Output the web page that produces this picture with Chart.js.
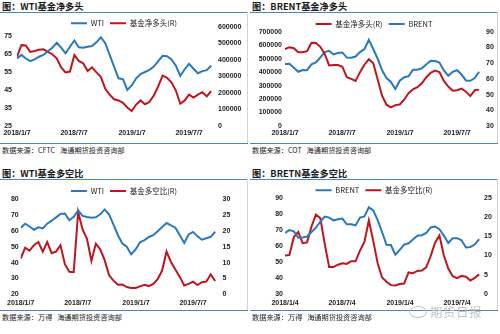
<!DOCTYPE html>
<html>
<head>
<meta charset="utf-8">
<script src="https://cdn.jsdelivr.net/npm/chart.js@4.4.0/dist/chart.umd.min.js"></script>
<style>
  html, body { margin: 0; padding: 0; background: #fff; }
  body { width: 500px; height: 334px; position: relative; overflow: hidden;
         font-family: "Noto Sans CJK SC", "Liberation Sans", sans-serif; }
  .panel { position: absolute; width: 250px; height: 167px; }
  .title { position: absolute; left: 2px; top: 0; font-size: 9.2px; font-weight: bold;
           color: #1a1a1a; line-height: 12px; white-space: nowrap; }
  .rule { position: absolute; left: 0; width: 248px; height: 1px; background: #4a86c5; }
  .frame { position: absolute; left: 247px; top: 12px; width: 1px; height: 131px; background: #d4d4d4; }
  .src { position: absolute; left: 2px; top: 145px; font-size: 7.2px; color: #222;
         line-height: 10px; white-space: pre; }
  .panel canvas { position: absolute; left: 0; top: 13px; }
  .mark { position: absolute; left: 430px; top: 302px; font-size: 12.5px; color: #c4c4c4;
          letter-spacing: 0.5px; white-space: nowrap; }
  .icon { position: absolute; left: 409px; top: 306px; width: 16px; height: 10px;
          border: 1px solid #c4c4c4; border-radius: 50%; }
</style>
</head>
<body>

<div class="panel" style="left:0;top:0">
  <div class="title">图：WTI基金净多头</div>
  <div class="rule" style="top:12px"></div>
  <div class="frame"></div>
  <canvas id="c1" width="248" height="130"></canvas>
  <div class="rule" style="top:143px"></div>
  <div class="src">数据来源：CFTC   海通期货投资咨询部</div>
</div>

<div class="panel" style="left:250px;top:0">
  <div class="title">图：BRENT基金净多头</div>
  <div class="rule" style="top:12px"></div>
  <div class="frame"></div>
  <canvas id="c2" width="248" height="130"></canvas>
  <div class="rule" style="top:143px"></div>
  <div class="src">数据来源：COT   海通期货投资咨询部</div>
</div>

<div class="panel" style="left:0;top:167px">
  <div class="title">图：WTI基金多空比</div>
  <div class="rule" style="top:12px"></div>
  <div class="frame"></div>
  <canvas id="c3" width="248" height="130"></canvas>
  <div class="rule" style="top:143px"></div>
  <div class="src">数据来源：万得   海通期货投资咨询部</div>
</div>

<div class="panel" style="left:250px;top:167px">
  <div class="title">图：BRETN基金多空比</div>
  <div class="rule" style="top:12px"></div>
  <div class="frame"></div>
  <canvas id="c4" width="248" height="130"></canvas>
  <div class="rule" style="top:143px"></div>
  <div class="src">数据来源：万得   海通期货投资咨询部</div>
</div>

<div class="icon"></div>
<div class="mark">期货日报</div>

<script>
// dates on the x axis (readings are every two weeks from the start date)
const startJan7 = '2018/1/7';
const startJan4 = '2018/1/4';
const xLabelsJan7 = ['2018/1/7', '2018/7/7', '2019/1/7', '2019/7/7'];
const xLabelsJan4 = ['2018/1/4', '2018/7/4', '2019/1/4', '2019/7/4'];

// WTI net long
const wtiPrice1 = [62.5, 64.5, 62.5, 61, 62, 63.5, 64.5, 66.5, 68.5, 71.2,
                   68.5, 65.4, 69, 72.5, 68.7, 68.5, 69, 69.4, 71.5, 74.3,
                   71, 64.5, 58, 51.5, 51, 45, 47.5, 51.5, 53.9, 55,
                   56.2, 58, 61, 64, 63.8, 62, 58.5, 52.8, 56.5, 59.5,
                   56.8, 54.3, 55.5, 56, 58.5];
const wtiNetLong = [420000, 490000, 488000, 449000, 455000, 462000, 465000, 449000, 435000, 410000,
                    355000, 325000, 330000, 430000, 394000, 380000, 333000, 355000, 325000, 298000,
                    225000, 190000, 162000, 155000, 140000, 112000, 90000, 130000, 155000, 132000,
                    145000, 185000, 240000, 305000, 292000, 265000, 215000, 135000, 155000, 190000,
                    172000, 190000, 205000, 180000, 212000];

// BRENT net long
const brentNetLong = [570000, 585000, 577000, 548000, 548000, 555000, 618000, 616000, 588000, 535000,
                      450000, 452000, 453000, 440000, 362000, 350000, 335000, 400000, 455000, 495000,
                      465000, 345000, 225000, 158000, 139000, 155000, 160000, 195000, 243000, 272000,
                      288000, 317000, 360000, 395000, 411000, 400000, 335000, 293000, 262000, 265000,
                      278000, 255000, 222000, 265000, 270000];
const brentPrice2 = [69.4, 69.6, 67, 64.5, 65.6, 65.5, 69.2, 70.5, 73.6, 77,
                     77.8, 75.5, 76.4, 76.8, 73.5, 73.4, 74.2, 77, 79, 84.8,
                     79, 72.8, 65.4, 60.5, 58, 53.5, 58.8, 61, 61.6, 65.8,
                     65.8, 66.7, 69.2, 71.5, 71.3, 70.4, 65.3, 62, 64.5, 65.5,
                     62.8, 59, 58.8, 60.5, 64.5];

// WTI long/short ratio
const wtiPrice3 = [62, 64.6, 62.8, 60.8, 62.3, 61.6, 64.6, 66.5, 68.6, 70.8,
                   71, 66.7, 69, 73, 69.5, 68.8, 68.3, 68.6, 70.5, 73.6,
                   70.3, 64, 57.3, 52.1, 50, 45.2, 48.3, 52.8, 54.2, 56.2,
                   57.3, 59.8, 62.5, 65, 63.5, 62.1, 57.3, 52.4, 57.8, 59.4,
                   56.6, 54.5, 55.4, 56.3, 59.5];
const wtiRatio = [11.3, 14.7, 13.8, 15.5, 16.5, 13.5, 16.5, 13, 13.5, 15.5,
                  9.5, 7.1, 7, 26, 20.5, 17.5, 10.5, 16, 14.2, 10.8,
                  6, 4.3, 3, 3.1, 2.3, 2, 2, 2.5, 3, 2.6,
                  3.3, 4.8, 7.5, 13.5, 10.2, 7.8, 5.5, 2.8, 3.3, 4,
                  2.9, 3.8, 4, 6.3, 4.2];

// BRENT long/short ratio
const brentPrice4 = [68, 69.8, 69, 65, 65.2, 65.8, 68.6, 71.3, 75, 78.2,
                     77.6, 75.9, 76.6, 77, 73.4, 73.5, 72.8, 77.6, 78.3, 84,
                     82.1, 76, 68.6, 60.6, 60.5, 54.5, 57.5, 60.8, 61.6, 64,
                     66.3, 66.6, 68, 71.5, 72, 70.4, 66.4, 61.8, 64.8, 64.8,
                     63.5, 59, 59.3, 60.8, 64.2];
const brentRatio = [10, 10.1, 14.8, 16.1, 13.2, 13.4, 17.5, 20.6, 19.7, 13,
                    7, 7, 7.6, 8, 7.8, 8.5, 8.5, 11.3, 13.5, 19.1,
                    13.8, 8, 4.3, 3.2, 2.3, 2.2, 2.6, 2.7, 5.6, 5.4,
                    6, 6.1, 6.9, 9.8, 13.3, 15.2, 10, 6.6, 4.6, 4.1,
                    4.7, 4.5, 3.5, 4.2, 5.1];

// axis ticks
const ticksWti25 = [25, 35, 45, 55, 65, 75];
const ticksLong600k = [0, 100000, 200000, 300000, 400000, 500000, 600000];
const ticksLong700k = [0, 100000, 200000, 300000, 400000, 500000, 600000, 700000];
const ticksBrent30 = [30, 40, 50, 60, 70, 80, 90];
const ticksWti20 = [20, 30, 40, 50, 60, 70, 80];
const ticksRatio30 = [0, 5, 10, 15, 20, 25, 30];
const ticksRatio25 = [0, 5, 10, 15, 20, 25];

const BLUE = '#2a78bd';
const RED = '#c0151d';
const CW = 248, CH = 130;
const STEP_DAYS = 14;

function dayOf(s, start) {
  const toUtc = t => { const p = t.split('/').map(Number); return Date.UTC(p[0], p[1] - 1, p[2]); };
  return Math.round((toUtc(s) - toUtc(start)) / 86400000);
}

const tickFont = { family: '"Liberation Sans", Arial, sans-serif', size: 7, weight: 'bold' };

function makeChart(id, cfg) {
  const g = cfg.geom;
  const itemH = 7.5, legPad = 6;
  const padTop = g.legendY - legPad - itemH / 2;
  const xTicks = cfg.xLabels.map(s => dayOf(s, cfg.start));

  new Chart(document.getElementById(id), {
    type: 'line',
    data: {
      datasets: cfg.series.map(s => ({
        label: s.label,
        data: s.values.map((v, i) => ({ x: i * STEP_DAYS, y: v })),
        yAxisID: s.axis,
        borderColor: s.color,
        backgroundColor: s.color,
        borderWidth: 2,
        pointRadius: 0,
        tension: 0,
        fill: false
      }))
    },
    options: {
      responsive: false,
      animation: false,
      layout: { padding: { top: padTop, left: 0, right: 0, bottom: 0 } },
      plugins: {
        legend: {
          position: 'top',
          maxHeight: g.top - padTop,
          labels: {
            usePointStyle: true,
            pointStyle: 'line',
            pointStyleWidth: 16,
            padding: legPad,
            color: '#222',
            font: { family: '"Noto Sans CJK SC", sans-serif', size: itemH }
          }
        },
        tooltip: { enabled: false }
      },
      scales: {
        x: {
          type: 'linear', min: 0, max: 625,
          grid: { display: false, drawTicks: false },
          border: { display: false },
          afterFit: s => { s.height = CH - g.bottom; },
          afterBuildTicks: s => { s.ticks = xTicks.map(v => ({ value: v })); },
          ticks: {
            autoSkip: false, maxRotation: 0, padding: g.xPad, color: '#222', font: tickFont,
            callback: (v, i) => cfg.xLabels[i]
          }
        },
        left: {
          position: 'left', min: cfg.left.min, max: cfg.left.max,
          grid: { display: false, drawTicks: false },
          border: { display: false },
          afterFit: s => { s.width = g.left; },
          afterBuildTicks: s => { s.ticks = cfg.left.ticks.map(v => ({ value: v })); },
          ticks: { padding: g.lPad, color: '#222', font: tickFont, callback: v => String(v) }
        },
        right: {
          position: 'right', min: cfg.right.min, max: cfg.right.max,
          grid: { display: false, drawTicks: false },
          border: { display: false },
          afterFit: s => { s.width = CW - g.right; },
          afterBuildTicks: s => { s.ticks = cfg.right.ticks.map(v => ({ value: v })); },
          ticks: { padding: g.rPad, color: '#222', font: tickFont, callback: v => String(v) }
        }
      }
    }
  });
}

makeChart('c1', {
  start: startJan7, xLabels: xLabelsJan7,
  series: [
    { label: 'WTI', values: wtiPrice1, axis: 'left', color: BLUE },
    { label: '基金净多头(R)', values: wtiNetLong, axis: 'right', color: RED }
  ],
  left: { min: 25, max: 80, ticks: ticksWti25 },
  right: { min: 0, max: 600000, ticks: ticksLong600k },
  geom: { left: 17, right: 214, top: 14, bottom: 113, legendY: 10.3, xPad: 2.5, lPad: 5, rPad: 4 }
});

makeChart('c2', {
  start: startJan7, xLabels: xLabelsJan7,
  series: [
    { label: '基金净多头(R)', values: brentNetLong, axis: 'left', color: RED },
    { label: 'BRENT', values: brentPrice2, axis: 'right', color: BLUE }
  ],
  left: { min: 0, max: 700000, ticks: ticksLong700k },
  right: { min: 30, max: 90, ticks: ticksBrent30 },
  geom: { left: 35, right: 232, top: 18.7, bottom: 113, legendY: 11, xPad: 2.5, lPad: 3, rPad: 4 }
});

makeChart('c3', {
  start: startJan7, xLabels: xLabelsJan7,
  series: [
    { label: 'WTI', values: wtiPrice3, axis: 'left', color: BLUE },
    { label: '基金多空比(R)', values: wtiRatio, axis: 'right', color: RED }
  ],
  left: { min: 20, max: 80, ticks: ticksWti20 },
  right: { min: 0, max: 30, ticks: ticksRatio30 },
  geom: { left: 20.7, right: 218, top: 19.3, bottom: 114.3, legendY: 11, xPad: 4.5, lPad: 2, rPad: 4.5 }
});

makeChart('c4', {
  start: startJan4, xLabels: xLabelsJan4,
  series: [
    { label: 'BRENT', values: brentPrice4, axis: 'left', color: BLUE },
    { label: '基金多空比(R)', values: brentRatio, axis: 'right', color: RED }
  ],
  left: { min: 30, max: 90, ticks: ticksBrent30 },
  right: { min: 0, max: 25, ticks: ticksRatio25 },
  geom: { left: 35, right: 232, top: 17.7, bottom: 114, legendY: 10.3, xPad: 4.8, lPad: 2, rPad: 2 }
});
</script>
</body>
</html>
